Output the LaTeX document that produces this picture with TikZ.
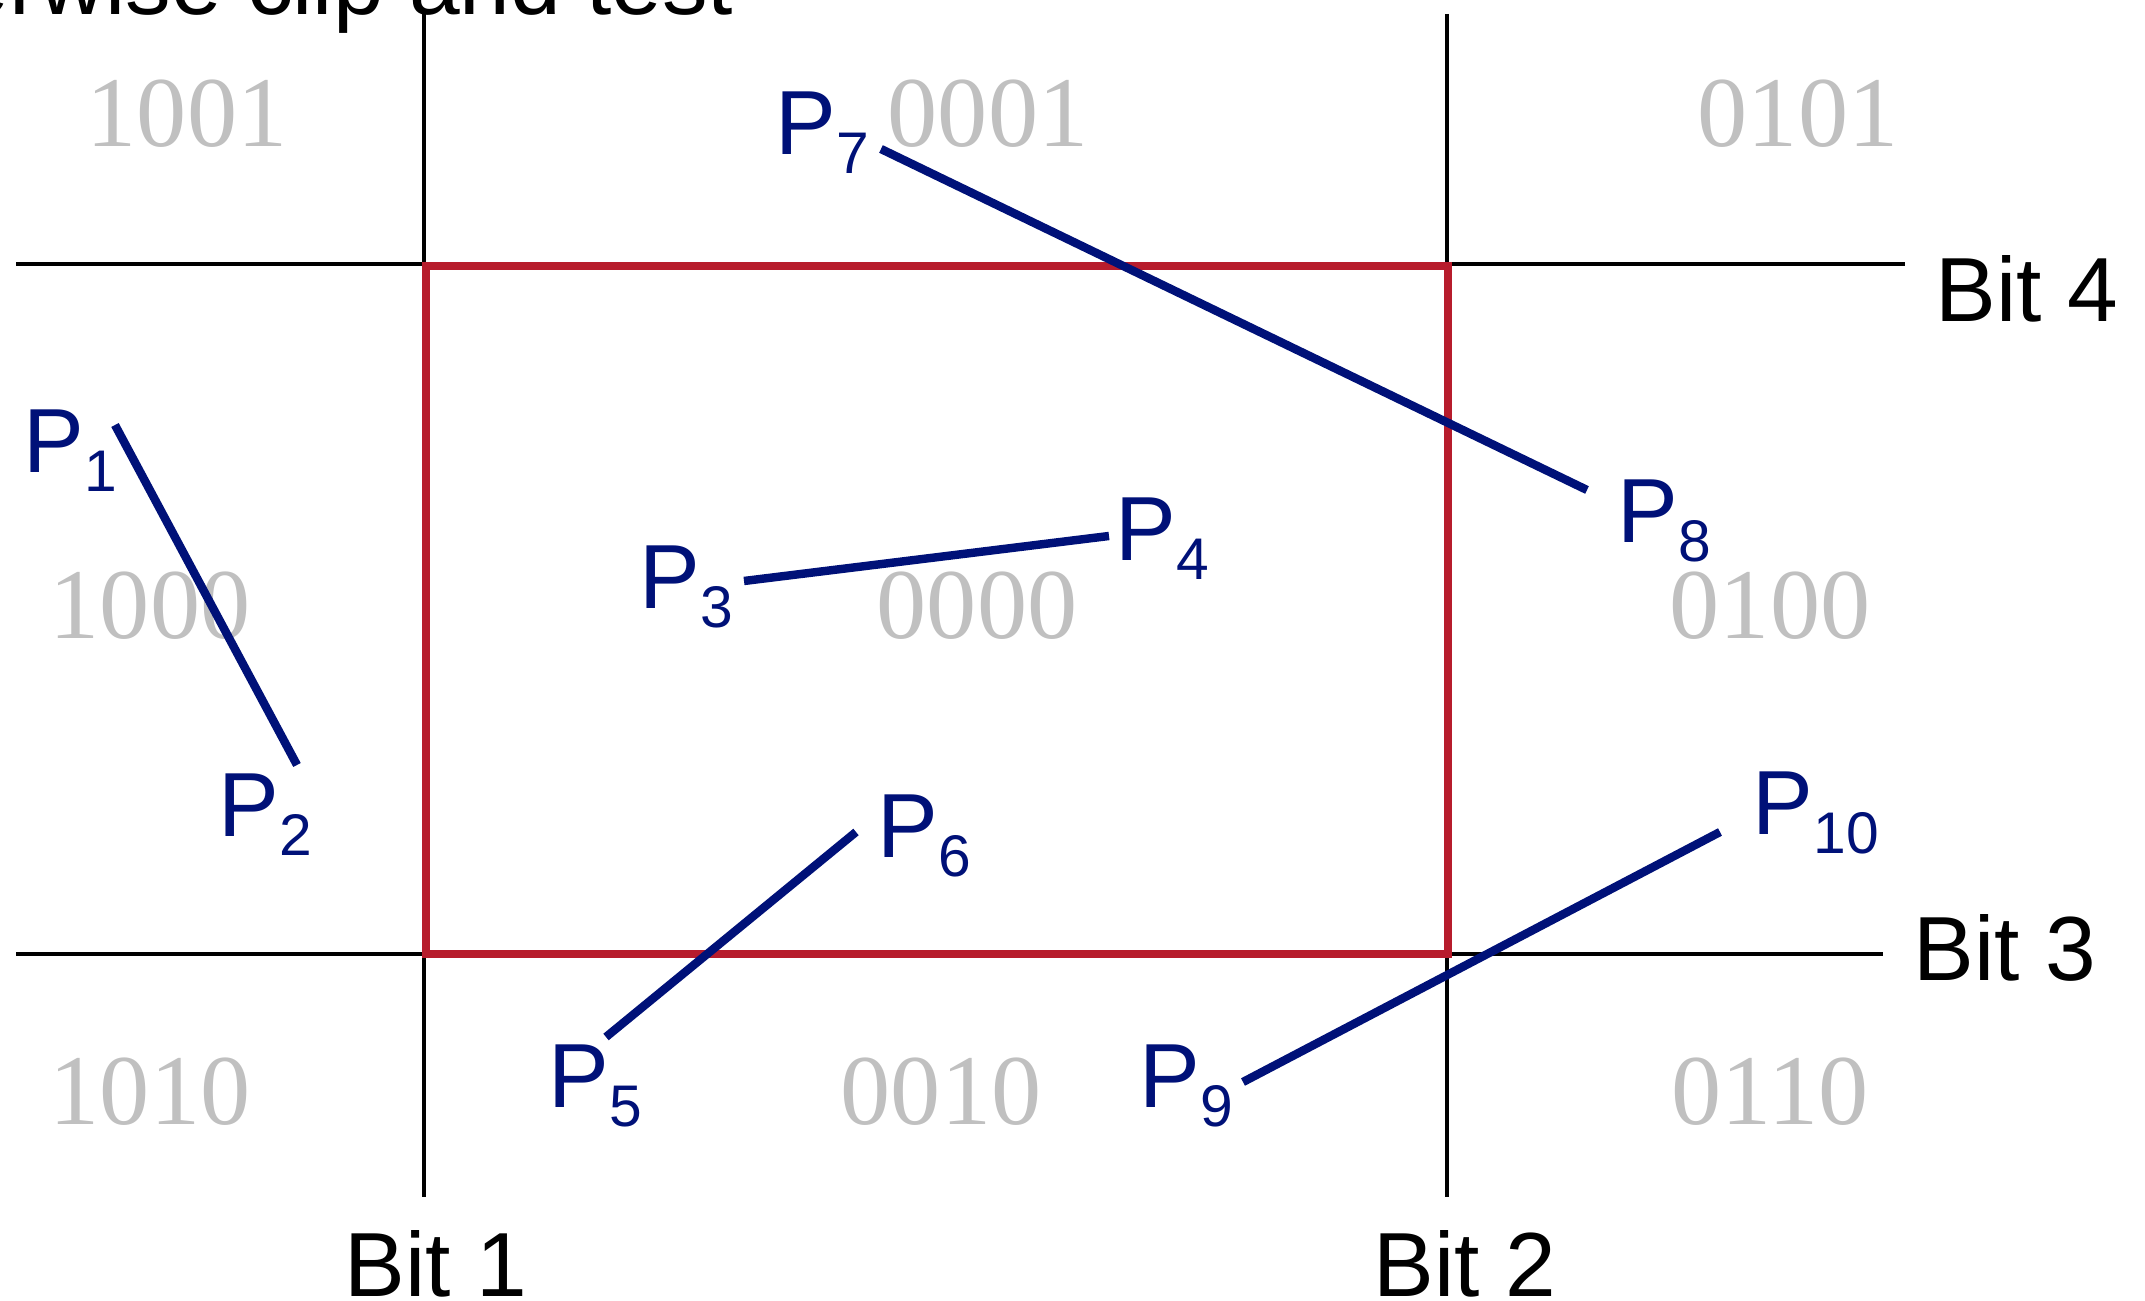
\documentclass[tikz,border=0pt]{standalone}
\usepackage{fontspec}
\setmainfont{Liberation Sans}
\newfontfamily\codefont{Liberation Serif}
\usetikzlibrary{positioning}
\definecolor{clipNavy}{RGB}{0,17,120}
\definecolor{clipRed}{RGB}{183,28,44}
\definecolor{codeGray}{RGB}{192,192,192}
\newcommand{\plab}[1]{P\raisebox{-5.4pt}{\fontsize{16.7}{18}\selectfont #1}}

\begin{document}
\begin{tikzpicture}[x=0.01cm, y=-0.01cm,
        code/.style={font=\fontsize{28.5}{30}\selectfont\codefont, text=codeGray, inner sep=0pt},
        ptlabel/.style={font=\fontsize{25.9}{30}\selectfont, text=clipNavy, inner sep=0pt, anchor=base west},
        bitlabel/.style={font=\fontsize{25.9}{30}\selectfont, inner sep=0pt, anchor=base west},
        bitline/.style={line width=1.4pt, draw=black},
        window/.style={line width=2.3pt, draw=clipRed},
        seg/.style={line width=2.4pt, draw=clipNavy}]

        \useasboundingbox (0,0) rectangle (2145,1301);
        \clip (0,0) rectangle (2145,1301);

        % Heading (cut off at the top)
        \node[bitlabel, anchor=base east] (head) at (734,15) {otherwise clip and test};

        % Region codes
        \node[code] (c1001) at (187,114) {1001};
        \node[code] (c0001) at (988,114) {0001};
        \node[code] (c0101) at (1798,114) {0101};
        \node[code] (c1000) at (150,606) {1000};
        \node[code] (c0000) at (977,606) {0000};
        \node[code] (c0100) at (1770,606) {0100};
        \node[code] (c1010) at (150,1092) {1010};
        \node[code] (c0010) at (941,1092) {0010};
        \node[code] (c0110) at (1770,1092) {0110};

        % Bit lines
        \coordinate (b1top) at (424,14);
        \coordinate (b1bot) at (424,1197);
        \coordinate (b2top) at (1447,14);
        \coordinate (b2bot) at (1447,1197);
        \coordinate (b4left) at (16,264);
        \coordinate (b4right) at (1905,264);
        \coordinate (b3left) at (16,954);
        \coordinate (b3right) at (1883,954);
        \draw[bitline] (b1top) -- (b1bot);
        \draw[bitline] (b2top) -- (b2bot);
        \draw[bitline] (b4left) -- (b4right);
        \draw[bitline] (b3left) -- (b3right);

        \node[bitlabel] (bit1) at (344,1297) {Bit 1};
        \node[bitlabel] (bit2) at (1373,1297) {Bit 2};
        \node[bitlabel] (bit3) at (1913,981) {Bit 3};
        \node[bitlabel] (bit4) at (1935,322) {Bit 4};

        % Clip window
        \coordinate (wtl) at (426,266);
        \coordinate (wbr) at (1448,954);
        \draw[window] (wtl) rectangle (wbr);

        % Segments
        \coordinate (p1) at (115,425);
        \coordinate (p2) at (297,765);
        \coordinate (p3) at (744,581);
        \coordinate (p4) at (1109,536);
        \coordinate (p5) at (606,1037);
        \coordinate (p6) at (856,832);
        \coordinate (p7) at (881,149);
        \coordinate (p8) at (1587,490);
        \coordinate (p9) at (1243,1082);
        \coordinate (p10) at (1720,832);
        \draw[seg] (p1) -- (p2);
        \draw[seg] (p3) -- (p4);
        \draw[seg] (p5) -- (p6);
        \draw[seg] (p7) -- (p8);
        \draw[seg] (p9) -- (p10);

        \node[ptlabel] (l1) at (23,473) {\plab{1}};
        \node[ptlabel] (l2) at (218,837) {\plab{2}};
        \node[ptlabel] (l3) at (639,609) {\plab{3}};
        \node[ptlabel] (l4) at (1115,561) {\plab{4}};
        \node[ptlabel] (l5) at (548,1108) {\plab{5}};
        \node[ptlabel] (l6) at (877,858) {\plab{6}};
        \node[ptlabel] (l7) at (775,155) {\plab{7}};
        \node[ptlabel] (l8) at (1617,543) {\plab{8}};
        \node[ptlabel] (l9) at (1139,1108) {\plab{9}};
        \node[ptlabel] (l10) at (1752,835) {\plab{10}};
    \end{tikzpicture}
\end{document}
